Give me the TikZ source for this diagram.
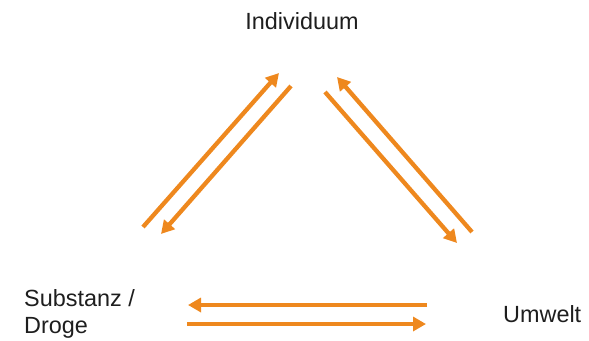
\documentclass[tikz,border=0pt]{standalone}
\usepackage{fontspec}
\setmainfont{Liberation Sans}
\usetikzlibrary{arrows.meta}
\definecolor{arr}{RGB}{238,136,30}
\definecolor{txt}{RGB}{30,30,30}
\begin{document}
\begin{tikzpicture}[x=1bp,y=-1bp,
  lbl/.style={font=\fontsize{23.5}{27}\selectfont, text=txt, inner sep=0pt, anchor=base west, align=left},
  conn/.style={draw=arr, line width=4.3bp, -{Triangle[length=13bp,width=14bp]}}]
\useasboundingbox (0,0) rectangle (589,340);
\node[lbl, anchor=base] (ind) at (302,29) {Individuum};
\node[lbl] (sub) at (24,333) {Substanz /\\Droge};
\node[lbl] (umw) at (503,322) {Umwelt};
% left diagonal
\coordinate (l1s) at (143,227); \coordinate (l1e) at (279,73);
\coordinate (l2s) at (291,86);  \coordinate (l2e) at (161,234);
% right diagonal
\coordinate (r1s) at (472,232); \coordinate (r1e) at (337,77);
\coordinate (r2s) at (325,92);  \coordinate (r2e) at (457,243);
% bottom
\coordinate (b1s) at (427,305); \coordinate (b1e) at (188,305);
\coordinate (b2s) at (187,324); \coordinate (b2e) at (426,324);
\draw[conn] (l1s) -- (l1e);
\draw[conn] (l2s) -- (l2e);
\draw[conn] (r1s) -- (r1e);
\draw[conn] (r2s) -- (r2e);
\draw[conn] (b1s) -- (b1e);
\draw[conn] (b2s) -- (b2e);
\end{tikzpicture}
\end{document}
